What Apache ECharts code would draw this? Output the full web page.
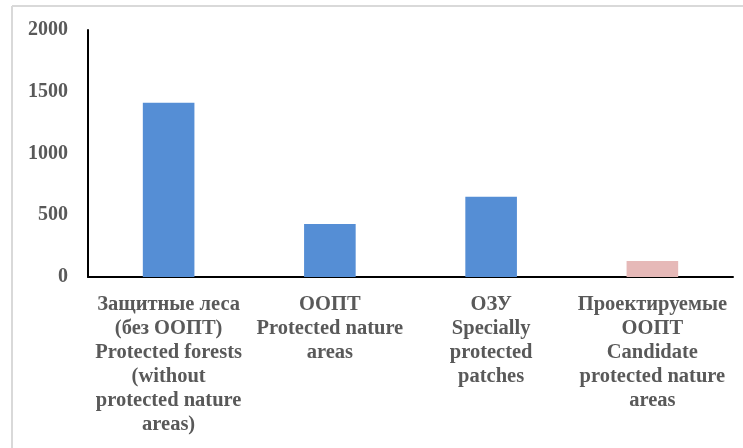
<!DOCTYPE html>
<html><head><meta charset="utf-8">
<script src="https://cdn.jsdelivr.net/npm/echarts@6/dist/echarts.min.js"></script>
<style>html,body{margin:0;padding:0;background:#fff}#c{width:743px;height:448px}</style>
</head><body><div id="c"></div>
<script>
const categories = [
  "Защитные леса\n(без ООПТ)\nProtected forests\n(without\nprotected nature\nareas)",
  "ООПТ\nProtected nature\nareas",
  "ОЗУ\nSpecially\nprotected\npatches",
  "Проектируемые\nООПТ\nCandidate\nprotected nature\nareas"
];
const values = [1410, 430, 650, 130];
const barColors = ["#558ed5", "#558ed5", "#558ed5", "#e6b9b8"];
const yTicks = [0, 500, 1000, 1500, 2000];

const chart = echarts.init(document.getElementById('c'), null, {renderer: 'canvas'});
const font = '"Liberation Serif", "Times New Roman", serif';
chart.setOption({
  animation: false,
  backgroundColor: '#fff',
  graphic: [
    {type: 'line', shape: {x1: 12, y1: 6, x2: 743, y2: 6}, style: {stroke: '#d9d9d9', lineWidth: 2}},
    {type: 'line', shape: {x1: 12, y1: 6, x2: 12, y2: 448}, style: {stroke: '#d9d9d9', lineWidth: 2}}
  ],
  grid: {left: 88, right: 10, top: 30, bottom: 171, containLabel: false},
  xAxis: {
    type: 'category',
    data: categories,
    axisLine: {lineStyle: {color: '#000', width: 2}},
    axisTick: {show: false},
    axisLabel: {
      interval: 0, color: '#595959', fontFamily: font, fontWeight: 'bold',
      fontSize: 20.5, lineHeight: 24, margin: 16
    }
  },
  yAxis: {
    type: 'value', min: yTicks[0], max: yTicks[yTicks.length - 1], interval: 500,
    axisLine: {show: true, lineStyle: {color: '#000', width: 2}},
    axisTick: {show: false},
    splitLine: {show: false},
    axisLabel: {color: '#595959', fontFamily: font, fontWeight: 'bold', fontSize: 20,
      margin: 20, formatter: v => String(v)}
  },
  series: [{
    type: 'bar',
    barWidth: '32%',
    data: values.map((v, i) => ({value: v, itemStyle: {color: barColors[i]}}))
  }]
});
</script></body></html>
